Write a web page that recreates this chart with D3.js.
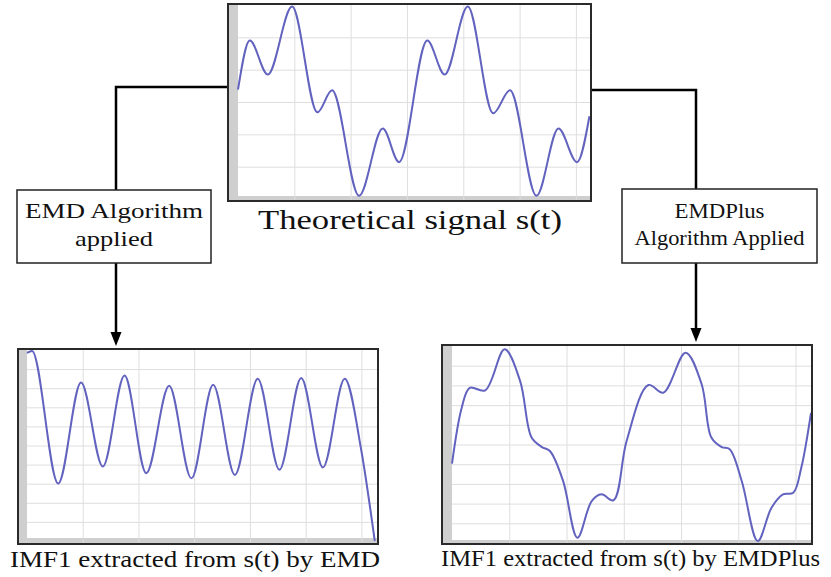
<!DOCTYPE html>
<html><head><meta charset="utf-8">
<script src="https://cdn.jsdelivr.net/npm/d3@7"></script>
<style>html,body{margin:0;padding:0;background:#fff;}svg{display:block;}</style>
</head><body>
<script>
// Theoretical signal s(t)
const topT = [0.00,0.21,0.53,0.96,1.41,1.67,2.15,2.57,2.86,3.36,3.67,4.08,4.53,4.83,5.30,5.69,6.02,6.24];
const topV = [0.38,1.90,0.85,2.95,-0.32,0.36,-2.90,-0.82,-1.86,1.90,0.85,2.95,-0.35,0.36,-2.90,-0.82,-1.86,-0.44];
// IMF1 by EMD
const emdT = [0.00,0.09,0.56,0.97,1.36,1.75,2.14,2.55,2.95,3.34,3.73,4.14,4.53,4.92,5.31,5.70,6.00,6.24];
const emdV = [4.85,4.95,-1.99,3.30,-1.10,3.66,-1.45,3.13,-1.72,3.18,-1.54,3.49,-1.27,3.54,-1.15,3.49,-0.29,-5.00];
// IMF1 by EMDPlus
const plusT = [0.00,0.17,0.31,0.58,0.92,1.19,1.39,1.57,1.71,1.94,2.19,2.44,2.61,2.82,3.05,3.43,3.69,4.08,4.36,4.53,4.71,4.85,5.06,5.34,5.58,5.78,5.96,6.10,6.27];
const plusV = [-0.97,1.87,2.88,2.75,4.83,3.22,0.35,-0.13,-0.33,-1.85,-4.73,-2.87,-2.53,-2.83,0.18,3.02,2.63,4.66,3.06,0.35,-0.13,-0.24,-1.85,-4.90,-3.21,-2.53,-2.45,-1.18,1.61];

const xGrid = [1,2,3,4,5,6];
const topYGrid = [-2,-1,0,1,2];
const imfYGrid = [-4,-3,-2,-1,0,1,2,3,4];

const captionTop = "Theoretical signal s(t)";
const captionEMD = "IMF1 extracted from s(t) by EMD";
const captionPlus = "IMF1 extracted from s(t) by EMDPlus";
const boxEMD = ["EMD Algorithm", "applied"];
const boxPlus = ["EMDPlus", "Algorithm Applied"];

const W = 831, H = 577;
const svg = d3.select("body").append("svg").attr("width", W).attr("height", H);

const FONT = "'Liberation Serif', 'Times New Roman', serif";

function drawChart(frame, strip, xDom, yDom, yGrid, T, V, curve) {
  const g = svg.append("g");
  const x = d3.scaleLinear().domain(xDom).range([frame.x0 + strip.left, frame.x1 - 1]);
  const y = d3.scaleLinear().domain(yDom).range([frame.y1 - strip.bottom + 3, frame.y0 + 1]);
  g.append("rect").attr("x", frame.x0).attr("y", frame.y0)
    .attr("width", frame.x1 - frame.x0).attr("height", frame.y1 - frame.y0)
    .attr("fill", "#fff");
  g.append("rect").attr("x", frame.x0).attr("y", frame.y0)
    .attr("width", strip.left).attr("height", frame.y1 - frame.y0).attr("fill", "#cfcfcf");
  g.append("rect").attr("x", frame.x0).attr("y", frame.y1 - strip.bottom)
    .attr("width", frame.x1 - frame.x0).attr("height", strip.bottom).attr("fill", "#cfcfcf");
  const xAxis = d3.axisBottom(x).tickValues(xGrid).tickSize(-(frame.y1 - frame.y0)).tickFormat("");
  const yAxis = d3.axisLeft(y).tickValues(yGrid).tickSize(-(frame.x1 - frame.x0 - strip.left)).tickFormat("");
  const gx = g.append("g").attr("transform", `translate(0,${frame.y1})`).call(xAxis);
  const gy = g.append("g").attr("transform", `translate(${frame.x0 + strip.left},0)`).call(yAxis);
  [gx, gy].forEach(a => {
    a.select(".domain").remove();
    a.selectAll("line").attr("stroke", "#dedede").attr("stroke-width", 1);
  });
  const pts = T.map((t, i) => [t, V[i]]);
  const line = d3.line().x(d => x(d[0])).y(d => y(d[1])).curve(curve);
  g.append("path").attr("d", line(pts)).attr("fill", "none")
    .attr("stroke", "#6262bf").attr("stroke-width", 2);
  g.append("rect").attr("x", frame.x0).attr("y", frame.y0)
    .attr("width", frame.x1 - frame.x0).attr("height", frame.y1 - frame.y0)
    .attr("fill", "none").attr("stroke", "#2a2a2a").attr("stroke-width", 2);
}

const conn = svg.append("g").attr("stroke", "#000").attr("stroke-width", 2.5).attr("fill", "none");
conn.append("path").attr("d", "M228,87 H116 V190");
conn.append("path").attr("d", "M116,263 V334");
conn.append("path").attr("d", "M592,90 H696 V189");
conn.append("path").attr("d", "M696,263 V330");
svg.append("path").attr("d", "M110.5,332 L121.5,332 L116,346 Z").attr("fill", "#000");
svg.append("path").attr("d", "M690.5,328 L701.5,328 L696,342 Z").attr("fill", "#000");

drawChart({x0: 228, x1: 591, y0: 4, y1: 201}, {left: 10, bottom: 5}, [0, 6.25], [-3, 3], topYGrid, topT, topV, d3.curveMonotoneX);
drawChart({x0: 18, x1: 378, y0: 349, y1: 544}, {left: 9, bottom: 6}, [0, 6.28], [-5, 5], imfYGrid, emdT, emdV, d3.curveMonotoneX);
drawChart({x0: 442, x1: 812, y0: 345, y1: 544}, {left: 10, bottom: 4}, [0, 6.27], [-5, 5], imfYGrid, plusT, plusV, d3.curveCatmullRom.alpha(0.5));

function box(x0, y0, x1, y1, lines, baselines, widths) {
  svg.append("rect").attr("x", x0).attr("y", y0).attr("width", x1 - x0).attr("height", y1 - y0)
    .attr("fill", "#fff").attr("stroke", "#222").attr("stroke-width", 1.5);
  lines.forEach((s, i) => {
    svg.append("text").attr("x", (x0 + x1) / 2).attr("y", baselines[i])
      .attr("text-anchor", "middle").attr("font-family", FONT).attr("font-size", 22)
      .attr("textLength", widths[i]).attr("lengthAdjust", "spacingAndGlyphs")
      .attr("fill", "#111").text(s);
  });
}
box(17, 190, 211, 263, boxEMD, [218, 246], [178, 78]);
box(622, 189, 817, 263, boxPlus, [218, 245], [90, 170]);

function caption(s, x0, x1, base, size) {
  svg.append("text").attr("x", x0).attr("y", base).attr("font-family", FONT).attr("font-size", size)
    .attr("textLength", x1 - x0).attr("lengthAdjust", "spacingAndGlyphs").attr("fill", "#111").text(s);
}
caption(captionTop, 258, 562, 229, 27);
caption(captionEMD, 10, 380, 567, 24);
caption(captionPlus, 441, 820, 566, 24);
</script>
</body></html>
